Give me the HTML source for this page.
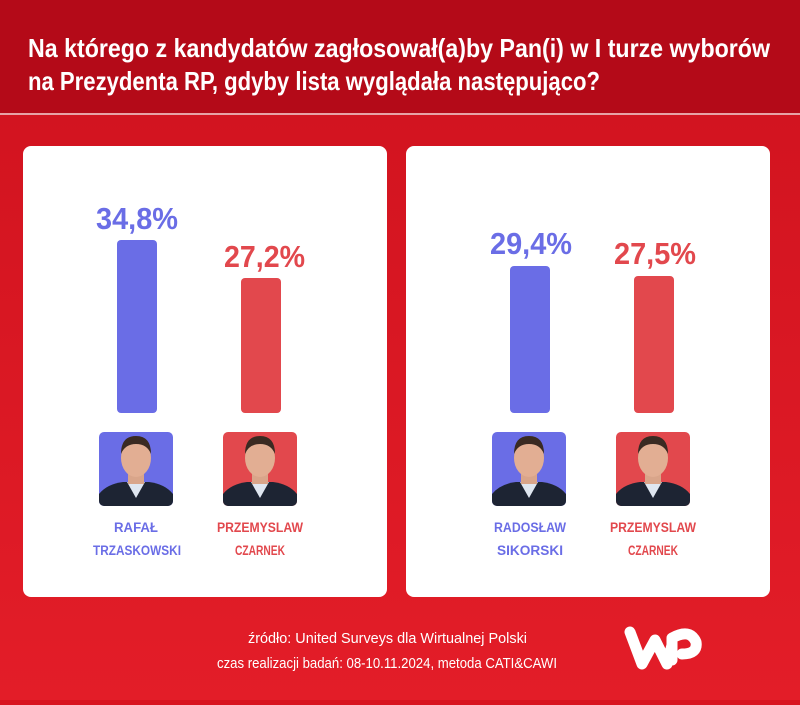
<!DOCTYPE html>
<html><head><meta charset="utf-8"><style>
html,body{margin:0;padding:0;}
body{width:800px;height:700px;overflow:hidden;background:#d8141f;}
svg text{font-family:"Liberation Sans",sans-serif;font-weight:bold;}
</style></head><body>
<svg width="800" height="700" viewBox="0 0 800 700" xmlns="http://www.w3.org/2000/svg">
<defs>
<linearGradient id="bg" x1="0" y1="0" x2="0" y2="1">
<stop offset="0" stop-color="#cf121e"/><stop offset="1" stop-color="#e31d28"/>
</linearGradient>
<clipPath id="c1"><rect x="99" y="432" width="74" height="74" rx="5"/></clipPath>
<clipPath id="c2"><rect x="223" y="432" width="74" height="74" rx="5"/></clipPath>
<clipPath id="c3"><rect x="492" y="432" width="74" height="74" rx="5"/></clipPath>
<clipPath id="c4"><rect x="616" y="432" width="74" height="74" rx="5"/></clipPath>
<g id="person">
<path d="M0,74 L0,62 Q8,52 24,50 L50,50 Q66,52 74,62 L74,74 Z" fill="#1d2433"/>
<path d="M28,50 L37,66 L46,50 Z" fill="#dfe6f0"/>
<rect x="29" y="40" width="16" height="12" fill="#d9a58a"/>
<ellipse cx="37" cy="26" rx="15" ry="19" fill="#e2ae93"/>
<path d="M22,22 Q22,4 37,4 Q52,4 52,22 Q48,12 37,12 Q26,12 22,22 Z" fill="#3a2a22"/>
</g>
</defs>
<rect width="800" height="700" fill="url(#bg)"/>
<rect width="800" height="113" fill="#b40a18"/>
<rect y="113" width="800" height="2" fill="#e7a3a7"/>
<text x="28" y="57" font-size="26" fill="#fff" textLength="742" lengthAdjust="spacingAndGlyphs">Na którego z kandydatów zagłosował(a)by Pan(i) w I turze wyborów</text>
<text x="28" y="90" font-size="26" fill="#fff" textLength="572" lengthAdjust="spacingAndGlyphs">na Prezydenta RP, gdyby lista wyglądała następująco?</text>

<rect x="23" y="146" width="364" height="451" rx="8" fill="#fff"/>
<rect x="406" y="146" width="364" height="451" rx="8" fill="#fff"/>

<!-- left card -->
<text x="96" y="229" font-size="31" fill="#6a6de6" textLength="82" lengthAdjust="spacingAndGlyphs">34,8%</text>
<rect x="117" y="240" width="40" height="173" rx="4" fill="#6a6de6"/>
<text x="224" y="267" font-size="31" fill="#e2484d" textLength="81" lengthAdjust="spacingAndGlyphs">27,2%</text>
<rect x="241" y="278" width="40" height="135" rx="4" fill="#e2484d"/>
<g clip-path="url(#c1)"><rect x="99" y="432" width="74" height="74" fill="#6a6de6"/><use href="#person" x="99" y="432"/></g>
<g clip-path="url(#c2)"><rect x="223" y="432" width="74" height="74" fill="#e2484d"/><use href="#person" x="223" y="432"/></g>
<text x="136" y="532" font-size="13.5" fill="#6a6de6" text-anchor="middle" textLength="44" lengthAdjust="spacingAndGlyphs">RAFAŁ</text>
<text x="137" y="555" font-size="13.5" fill="#6a6de6" text-anchor="middle" textLength="88" lengthAdjust="spacingAndGlyphs">TRZASKOWSKI</text>
<text x="260" y="532" font-size="13.5" fill="#e2484d" text-anchor="middle" textLength="86" lengthAdjust="spacingAndGlyphs">PRZEMYSLAW</text>
<text x="260" y="555" font-size="13.5" fill="#e2484d" text-anchor="middle" textLength="50" lengthAdjust="spacingAndGlyphs">CZARNEK</text>

<!-- right card -->
<text x="490" y="254" font-size="31" fill="#6a6de6" textLength="82" lengthAdjust="spacingAndGlyphs">29,4%</text>
<rect x="510" y="266" width="40" height="147" rx="4" fill="#6a6de6"/>
<text x="614" y="264" font-size="31" fill="#e2484d" textLength="82" lengthAdjust="spacingAndGlyphs">27,5%</text>
<rect x="634" y="276" width="40" height="137" rx="4" fill="#e2484d"/>
<g clip-path="url(#c3)"><rect x="492" y="432" width="74" height="74" fill="#6a6de6"/><use href="#person" x="492" y="432"/></g>
<g clip-path="url(#c4)"><rect x="616" y="432" width="74" height="74" fill="#e2484d"/><use href="#person" x="616" y="432"/></g>
<text x="530" y="532" font-size="13.5" fill="#6a6de6" text-anchor="middle" textLength="72" lengthAdjust="spacingAndGlyphs">RADOSŁAW</text>
<text x="530" y="555" font-size="13.5" fill="#6a6de6" text-anchor="middle" textLength="66" lengthAdjust="spacingAndGlyphs">SIKORSKI</text>
<text x="653" y="532" font-size="13.5" fill="#e2484d" text-anchor="middle" textLength="86" lengthAdjust="spacingAndGlyphs">PRZEMYSLAW</text>
<text x="653" y="555" font-size="13.5" fill="#e2484d" text-anchor="middle" textLength="50" lengthAdjust="spacingAndGlyphs">CZARNEK</text>

<!-- footer -->
<text x="248" y="643" font-size="14.5" font-weight="normal" style="font-weight:normal" fill="#fff" textLength="279" lengthAdjust="spacingAndGlyphs">źródło: United Surveys dla Wirtualnej Polski</text>
<text x="217" y="668" font-size="14.5" style="font-weight:normal" fill="#fff" textLength="340" lengthAdjust="spacingAndGlyphs">czas realizacji badań: 08-10.11.2024, metoda CATI&amp;CAWI</text>
<!-- WP logo -->
<g fill="none" stroke="#fff" stroke-width="11" stroke-linecap="round" stroke-linejoin="round">
<path d="M630,632 L642,664 L655,640 L667,664 L672,645"/>
<path d="M672,660 L672,638 Q690,628 696,642 Q698,654 682,654"/>
</g>
</svg>
</body></html>
